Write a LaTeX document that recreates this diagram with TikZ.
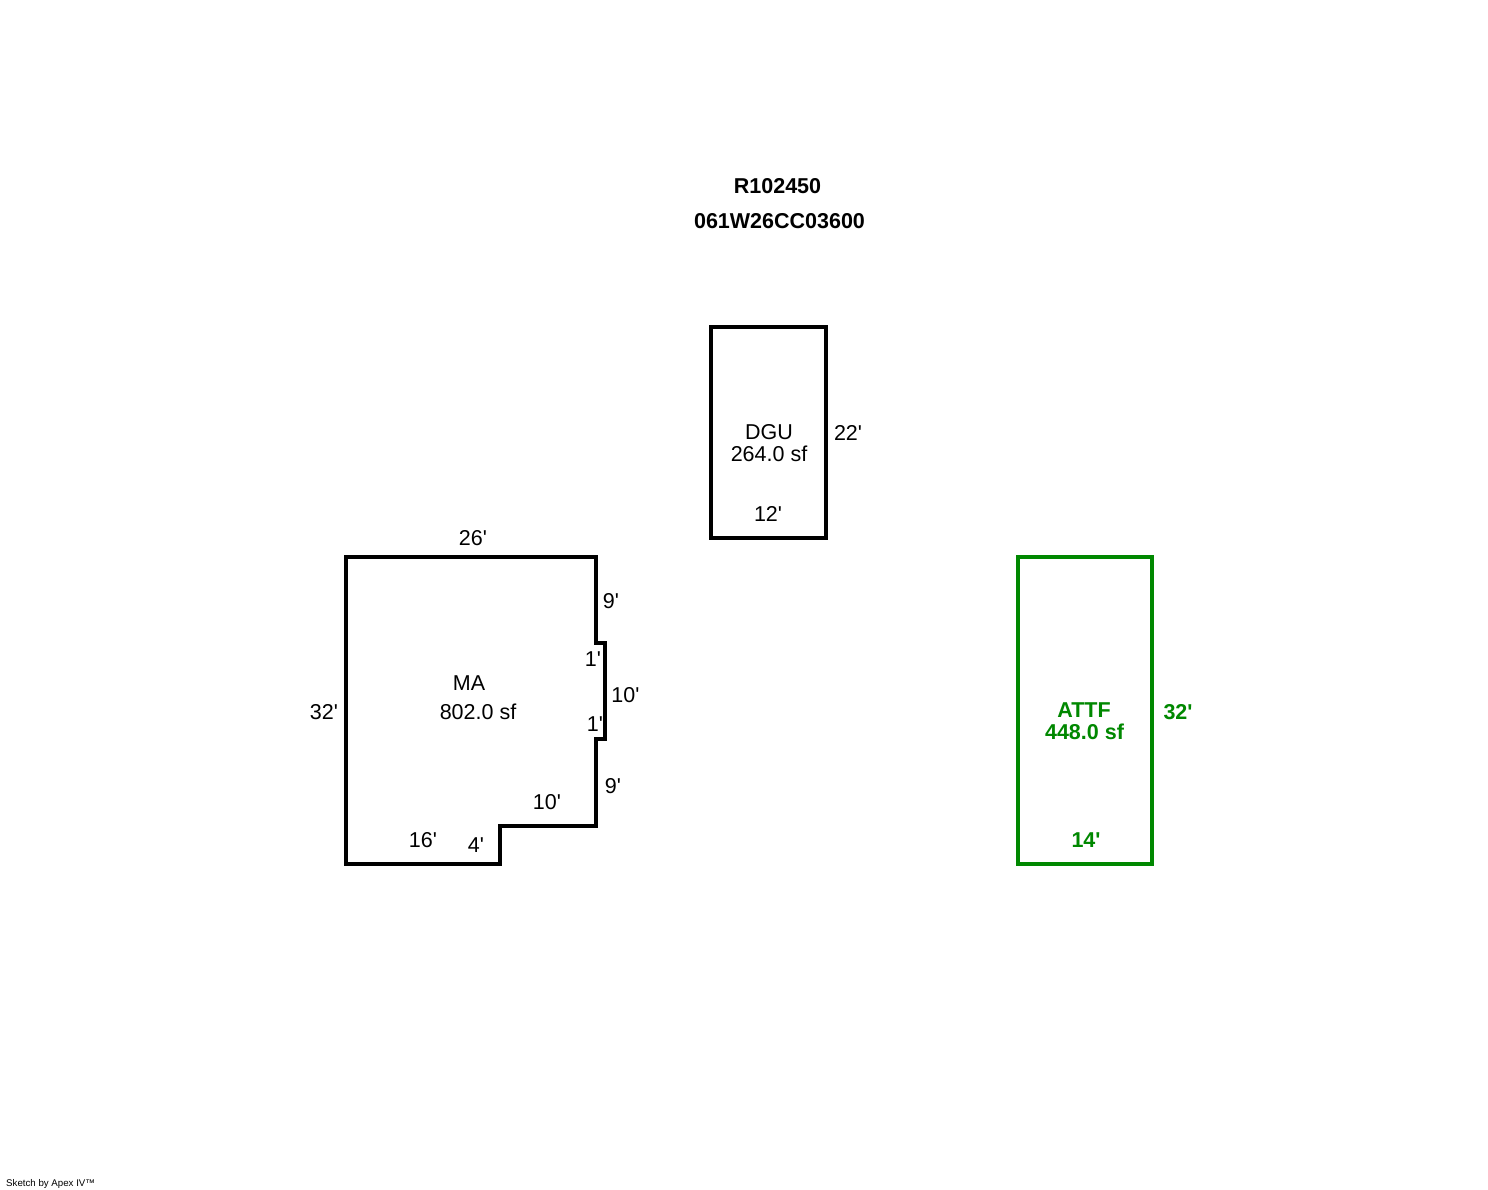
\documentclass[tikz,border=0pt]{standalone}
\usepackage{fontspec}
\setmainfont[Ligatures=TeXOff]{Liberation Sans}
\begin{document}
\begin{tikzpicture}[
  x=1pt, y=-1pt,
  wall/.style={line width=4pt, miter limit=10},
  lbl/.style={inner sep=0pt, font=\fontsize{21.5}{21.5}\selectfont},
  lblgreen/.style={lbl, text=attf, font=\fontsize{21.5}{21.5}\selectfont\bfseries},
  title/.style={inner sep=0pt, font=\fontsize{21.5}{21.5}\selectfont\bfseries},
]
\definecolor{attf}{RGB}{0,136,0}
\useasboundingbox (0,0) rectangle (1488,1190);
\path[fill=white] (0,0) rectangle (1488,1190);
%\draw[gray, help lines] (0,0) grid (1488,1190);
\node[title] (parcel) at (777.5,186) {R102450};
\node[title] (account) at (779.5,221) {061W26CC03600};
% detached garage
\draw [wall] (710.5,326.5) rectangle (825.5,537.5);
\node[lbl] (dgu) at (769,432.5) {DGU};
\node[lbl] (dguarea) at (769,454) {264.0 sf};
\node[lbl] (dgueast) at (848,432.5) {22'};
\node[lbl] (dgusouth) at (768,514) {12'};
% main area
\draw [wall] (345.5,556.5) -- (595.5,556.5) -- (595.5,643) -- (604.5,643) -- (604.5,739)
  -- (595.5,739) -- (595.5,825.5) -- (499.5,825.5) -- (499.5,863.5) -- (345.5,863.5) -- cycle;
\node[lbl] (ma) at (469,683) {MA};
\node[lbl] (maarea) at (478,712) {802.0 sf};
\node[lbl] (manorth) at (473,538) {26'};
\node[lbl] (mawest) at (324,712) {32'};
\node[lbl] (maeasta) at (611,601) {9'};
\node[lbl] (mastepa) at (593,659) {1'};
\node[lbl] (maeastb) at (625.5,695) {10'};
\node[lbl] (mastepb) at (595,724) {1'};
\node[lbl] (maeastc) at (613,786) {9'};
\node[lbl] (masoutha) at (547,802) {10'};
\node[lbl] (masouthb) at (476,845) {4'};
\node[lbl] (masouthc) at (423,840) {16'};
% attached frame
\draw [wall, attf] (1017.5,556.5) rectangle (1151.5,863.5);
\node[lblgreen] (attfname) at (1084,710) {ATTF};
\node[lblgreen] (attfarea) at (1084.5,732) {448.0 sf};
\node[lblgreen] (attfeast) at (1178,712) {32'};
\node[lblgreen] (attfsouth) at (1086,840) {14'};
\node[inner sep=0pt, anchor=west, font=\fontsize{9.7}{9.7}\selectfont] (credit) at (6,1184) {Sketch by Apex IV™};
\end{tikzpicture}
\end{document}
